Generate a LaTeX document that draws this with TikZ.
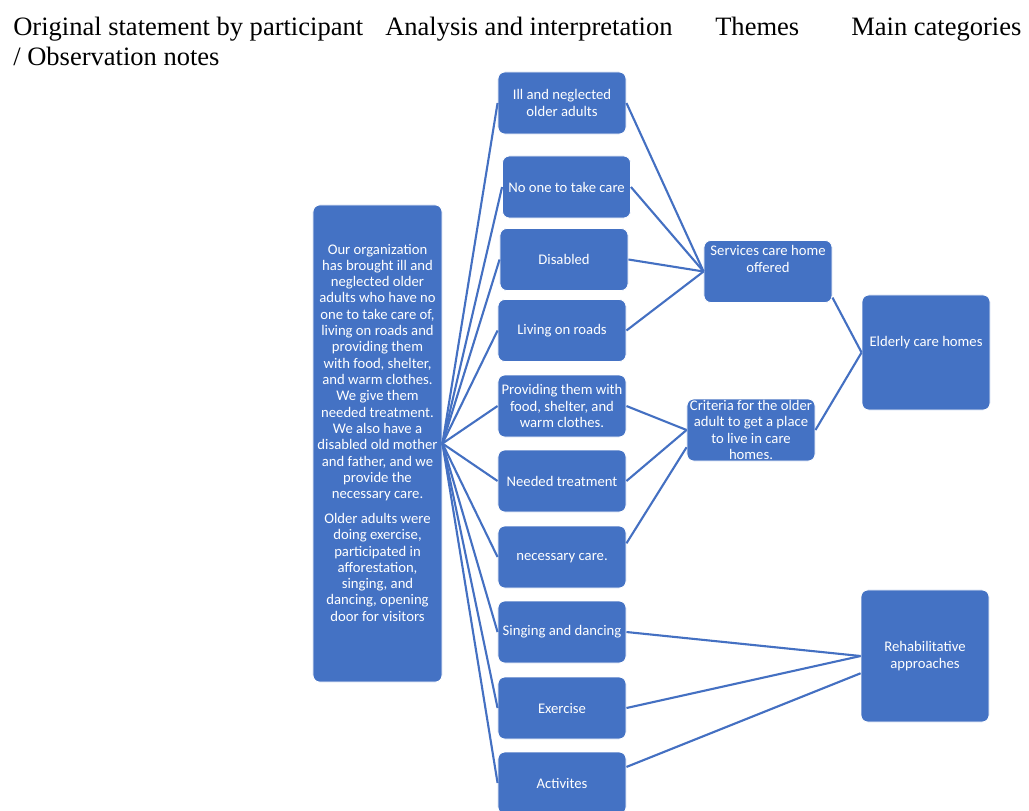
\documentclass[tikz,border=0pt]{standalone}
\usepackage{fontspec}
\setmainfont{Liberation Serif}
\newfontfamily\cardfont{Carlito}
\definecolor{cardblue}{HTML}{4472C4}
\definecolor{linkblue}{HTML}{4470C2}

\begin{document}
\begin{tikzpicture}[
    x=0.025cm, y=-0.025cm,
    card/.style={rectangle, rounded corners=0.17cm, draw=white, line width=0.6pt, fill=cardblue, text=white, align=center, font=\cardfont\fontsize{10.45pt}{11.6pt}\selectfont, minimum width=3.2cm, minimum height=1.55cm, inner sep=1pt},
    stmt/.style={card, minimum width=3.225cm, minimum height=11.925cm},
    code/.style={card},
    theme/.style={card},
    category/.style={card},
    heading/.style={font=\fontsize{18.86pt}{21.3pt}\selectfont, inner sep=0pt, anchor=base west},
    link/.style={draw=linkblue, line width=1.5pt}
]
    \clip (0,0) rectangle (1029,810);

    % Column headings
    \node[heading, align=left, anchor=north west] (hstmt) at (13,17) {Original statement by participant\\/ Observation notes};
    \node[heading] (hana) at (385,35) {Analysis and interpretation};
    \node[heading] (hthm) at (715,35) {Themes};
    \node[heading] (hcat) at (851,35) {Main categories};

    % Original statement
    \node[stmt] (orig) at (377.5,443.5) {Our organization\\has brought ill and\\neglected older\\adults who have no\\one to take care of,\\living on roads and\\providing them\\with food, shelter,\\and warm clothes.\\We give them\\needed treatment.\\We also have a\\disabled old mother\\and father, and we\\provide the\\necessary care.\\[0.21cm]Older adults were\\doing exercise,\\participated in\\afforestation,\\singing, and\\dancing, opening\\door for visitors\\[0.14cm]~};

    % Analysis and interpretation
    \node[code] (ill) at (562,103) {Ill and neglected\\older adults};
    \node[code] (noone) at (566.5,187) {No one to take care};
    \node[code] (dis) at (564,259.5) {Disabled};
    \node[code] (road) at (562,330.5) {Living on roads};
    \node[code] (prov) at (562,406) {Providing them with\\food, shelter, and\\warm clothes.};
    \node[code] (treat) at (562,481) {Needed treatment};
    \node[code] (care) at (562,557) {\strut necessary care.};
    \node[code] (sing) at (562,632) {Singing and dancing};
    \node[code] (exer) at (562,708) {Exercise};
    \node[code] (act) at (562,783) {Activites};

    % Themes
    \node[theme] (serv) at (768,271.5) {Services care home\\offered\\[0.22cm]~};
    \node[theme, inner sep=0pt] (crit) at (751,430) {Criteria for the older\\adult to get a place\\to live in care\\homes.};

    % Main categories
    \node[category, minimum height=2.875cm] (eld) at (926,352.5) {Elderly care homes\\[0.14cm]~};
    \node[category, minimum height=3.3cm] (rehab) at (925,656) {Rehabilitative\\approaches};

    % Statement to codes
    \draw[link] (orig.east) -- (ill.west);
    \draw[link] (orig.east) -- (noone.west);
    \draw[link] (orig.east) -- (dis.west);
    \draw[link] (orig.east) -- (road.west);
    \draw[link] (orig.east) -- (prov.west);
    \draw[link] (orig.east) -- (treat.west);
    \draw[link] (orig.east) -- (care.west);
    \draw[link] (orig.east) -- (sing.west);
    \draw[link] (orig.east) -- (exer.west);
    \draw[link] (orig.east) -- (act.west);

    % Codes to themes
    \draw[link] (ill.east) -- (serv.west);
    \draw[link] (noone.east) -- (serv.west);
    \draw[link] (dis.east) -- (serv.west);
    \draw[link] (road.east) -- (serv.west);
    \draw[link] (prov.east) -- (crit.west);
    \draw[link] (treat.east) -- (crit.west);
    \draw[link] (care.12) -- (crit.195);

    % Themes and codes to categories
    \draw[link] (serv.-22) -- (eld.west);
    \draw[link] (crit.east) -- (eld.west);
    \draw[link] (sing.east) -- (rehab.west);
    \draw[link] (exer.east) -- (rehab.west);
    \draw[link] (act.14) -- (rehab.195);
\end{tikzpicture}
\end{document}
